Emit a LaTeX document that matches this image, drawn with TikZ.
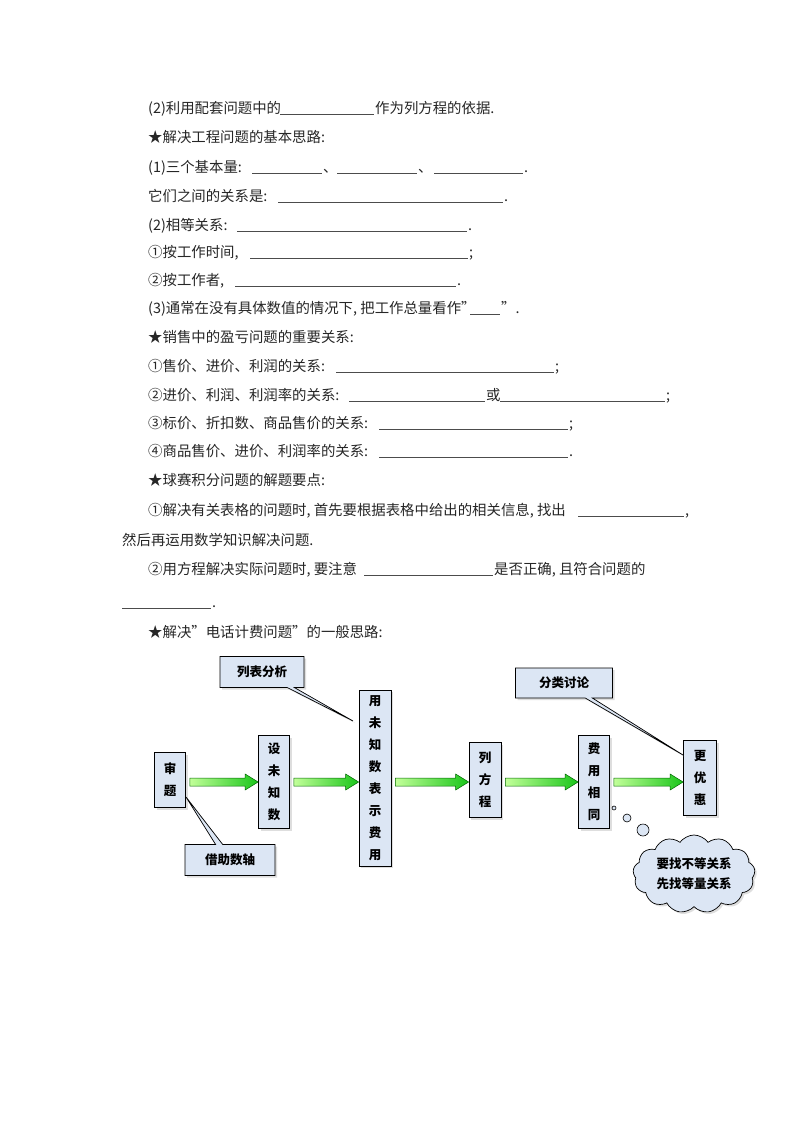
\documentclass[tikz,border=0pt]{standalone}
\usepackage{fontspec}
\setmainfont{Noto Sans CJK SC}
\usetikzlibrary{shapes.callouts,shapes.symbols,shadows,calc}
\definecolor{boxfill}{HTML}{DCE6F4}
\begin{document}
\begin{tikzpicture}[x=1pt,y=-1pt,
  txt/.style={anchor=base west,inner sep=0pt,font=\fontsize{14.4pt}{16pt}\selectfont,text=black!85},
  uline/.style={draw=black!70,line width=0.6pt},
  vbox/.style={draw=black,fill=boxfill,line width=0.7pt,align=center,inner sep=0pt,
     font=\fontsize{12.5pt}{22pt}\bfseries\selectfont,drop shadow={shadow xshift=2pt,shadow yshift=-2pt,fill=gray!50}},
  cbox/.style={rectangle callout,draw=black,fill=boxfill,line width=0.7pt,inner sep=0pt,
     font=\fontsize{12.5pt}{15pt}\bfseries\selectfont,drop shadow={shadow xshift=2pt,shadow yshift=-2pt,fill=gray!50}},
  garr/.style={draw=green!40!black,line width=0.5pt,left color=yellow!40!green!40,right color=green!75!black!90}
]
\useasboundingbox[fill=white] (0,0) rectangle (800,1132);
% text lines
\newcommand{\tl}[3]{\node[txt] at (#1,#2+5) {#3};}
\newcommand{\ul}[3]{\draw[uline] (#1,#3+6) -- (#2,#3+6);}
\tl{148}{108}{(2)利用配套问题中的} \ul{280}{374}{108} \tl{375}{108}{作为列方程的依据.}
\tl{148}{137}{★解决工程问题的基本思路:}
\tl{148}{167}{(1)三个基本量:} \ul{252}{322}{167} \tl{323}{167}{、} \ul{337}{417}{167} \tl{418}{167}{、} \ul{434}{523}{167} \tl{524}{167}{.}
\tl{148}{196}{它们之间的关系是:} \ul{278}{503}{196} \tl{504}{196}{.}
\tl{148}{225}{(2)相等关系:} \ul{237}{467}{225} \tl{468}{225}{.}
\tl{148}{252}{①按工作时间,} \ul{250}{468}{252} \tl{469}{252}{;}
\tl{148}{280}{②按工作者,} \ul{235}{456}{280} \tl{457}{280}{.}
\tl{148}{308}{(3)通常在没有具体数值的情况下, 把工作总量看作"} \ul{470}{500}{308} \tl{501}{308}{".}
\tl{148}{337}{★销售中的盈亏问题的重要关系:}
\tl{148}{366}{①售价、进价、利润的关系:} \ul{336}{554}{366} \tl{555}{366}{;}
\tl{148}{395}{②进价、利润、利润率的关系:} \ul{349}{485}{395} \tl{486}{395}{或} \ul{500}{665}{395} \tl{666}{395}{;}
\tl{148}{423}{③标价、折扣数、商品售价的关系:} \ul{379}{568}{423} \tl{569}{423}{;}
\tl{148}{451}{④商品售价、进价、利润率的关系:} \ul{379}{568}{451} \tl{569}{451}{.}
\tl{148}{480}{★球赛积分问题的解题要点:}
\tl{148}{510}{①解决有关表格的问题时, 首先要根据表格中给出的相关信息, 找出} \ul{578}{684}{510} \tl{685}{510}{,}
\tl{122}{540}{然后再运用数学知识解决问题.}
\tl{148}{569}{②用方程解决实际问题时, 要注意} \ul{364}{493}{569} \tl{494}{569}{是否正确, 且符合问题的}
\ul{122}{211}{602} \tl{212}{602}{.}
\tl{148}{632}{★解决"电话计费问题"的一般思路:}
% diagram boxes
\node[vbox,minimum width=31,minimum height=55] (sh) at (170,780) {审\\题};
\node[vbox,minimum width=31,minimum height=93] (sz) at (274,782) {设\\未\\知\\数};
\node[vbox,minimum width=32,minimum height=176] (yw) at (375,778) {用\\未\\知\\数\\表\\示\\费\\用};
\node[vbox,minimum width=32,minimum height=75] (lf) at (485,780) {列\\方\\程};
\node[vbox,minimum width=31,minimum height=93] (fy) at (594,782) {费\\用\\相\\同};
\node[vbox,minimum width=33,minimum height=75] (gy) at (700,778) {更\\优\\惠};
% callouts
\node[cbox,minimum width=84,minimum height=31,callout absolute pointer={(353,721)}] (lb) at (262,672) {列表分析};
\node[cbox,minimum width=97,minimum height=30,callout absolute pointer={(683,755)}] (fl) at (564,683) {分类讨论};
\node[cbox,minimum width=90,minimum height=31,callout absolute pointer={(186,797)}] (jz) at (230,860) {借助数轴};
% cloud
\node[cloud,cloud puffs=13,cloud puff arc=110,aspect=1.6,draw=black,fill=boxfill,line width=0.7pt,
  minimum width=122,minimum height=78,inner sep=0pt,align=center,
  font=\fontsize{12.5pt}{20pt}\bfseries\selectfont,drop shadow={shadow xshift=2pt,shadow yshift=-2pt,fill=gray!50}] (cl) at (694,874) {要找不等关系\\先找等量关系};
\draw[fill=boxfill,line width=0.6pt] (614,808) circle (2);
\draw[fill=boxfill,line width=0.6pt] (627,818) circle (4);
\draw[fill=boxfill,line width=0.6pt] (643,830) circle (6);
% arrows
\newcommand{\garrow}[2]{%
 \path[garr] let \p1=(#1.east), \p2=(#2.west), \p3=(0,782) in
  (\x1+4pt,\y3+4pt) -- (\x2-13pt,\y3+4pt) -- (\x2-13pt,\y3+8pt) -- (\x2,\y3) --
  (\x2-13pt,\y3-8pt) -- (\x2-13pt,\y3-4pt) -- (\x1+4pt,\y3-4pt) -- cycle;}
\garrow{sh}{sz}
\garrow{sz}{yw}
\garrow{yw}{lf}
\garrow{lf}{fy}
\garrow{fy}{gy}
\end{tikzpicture}
\end{document}
